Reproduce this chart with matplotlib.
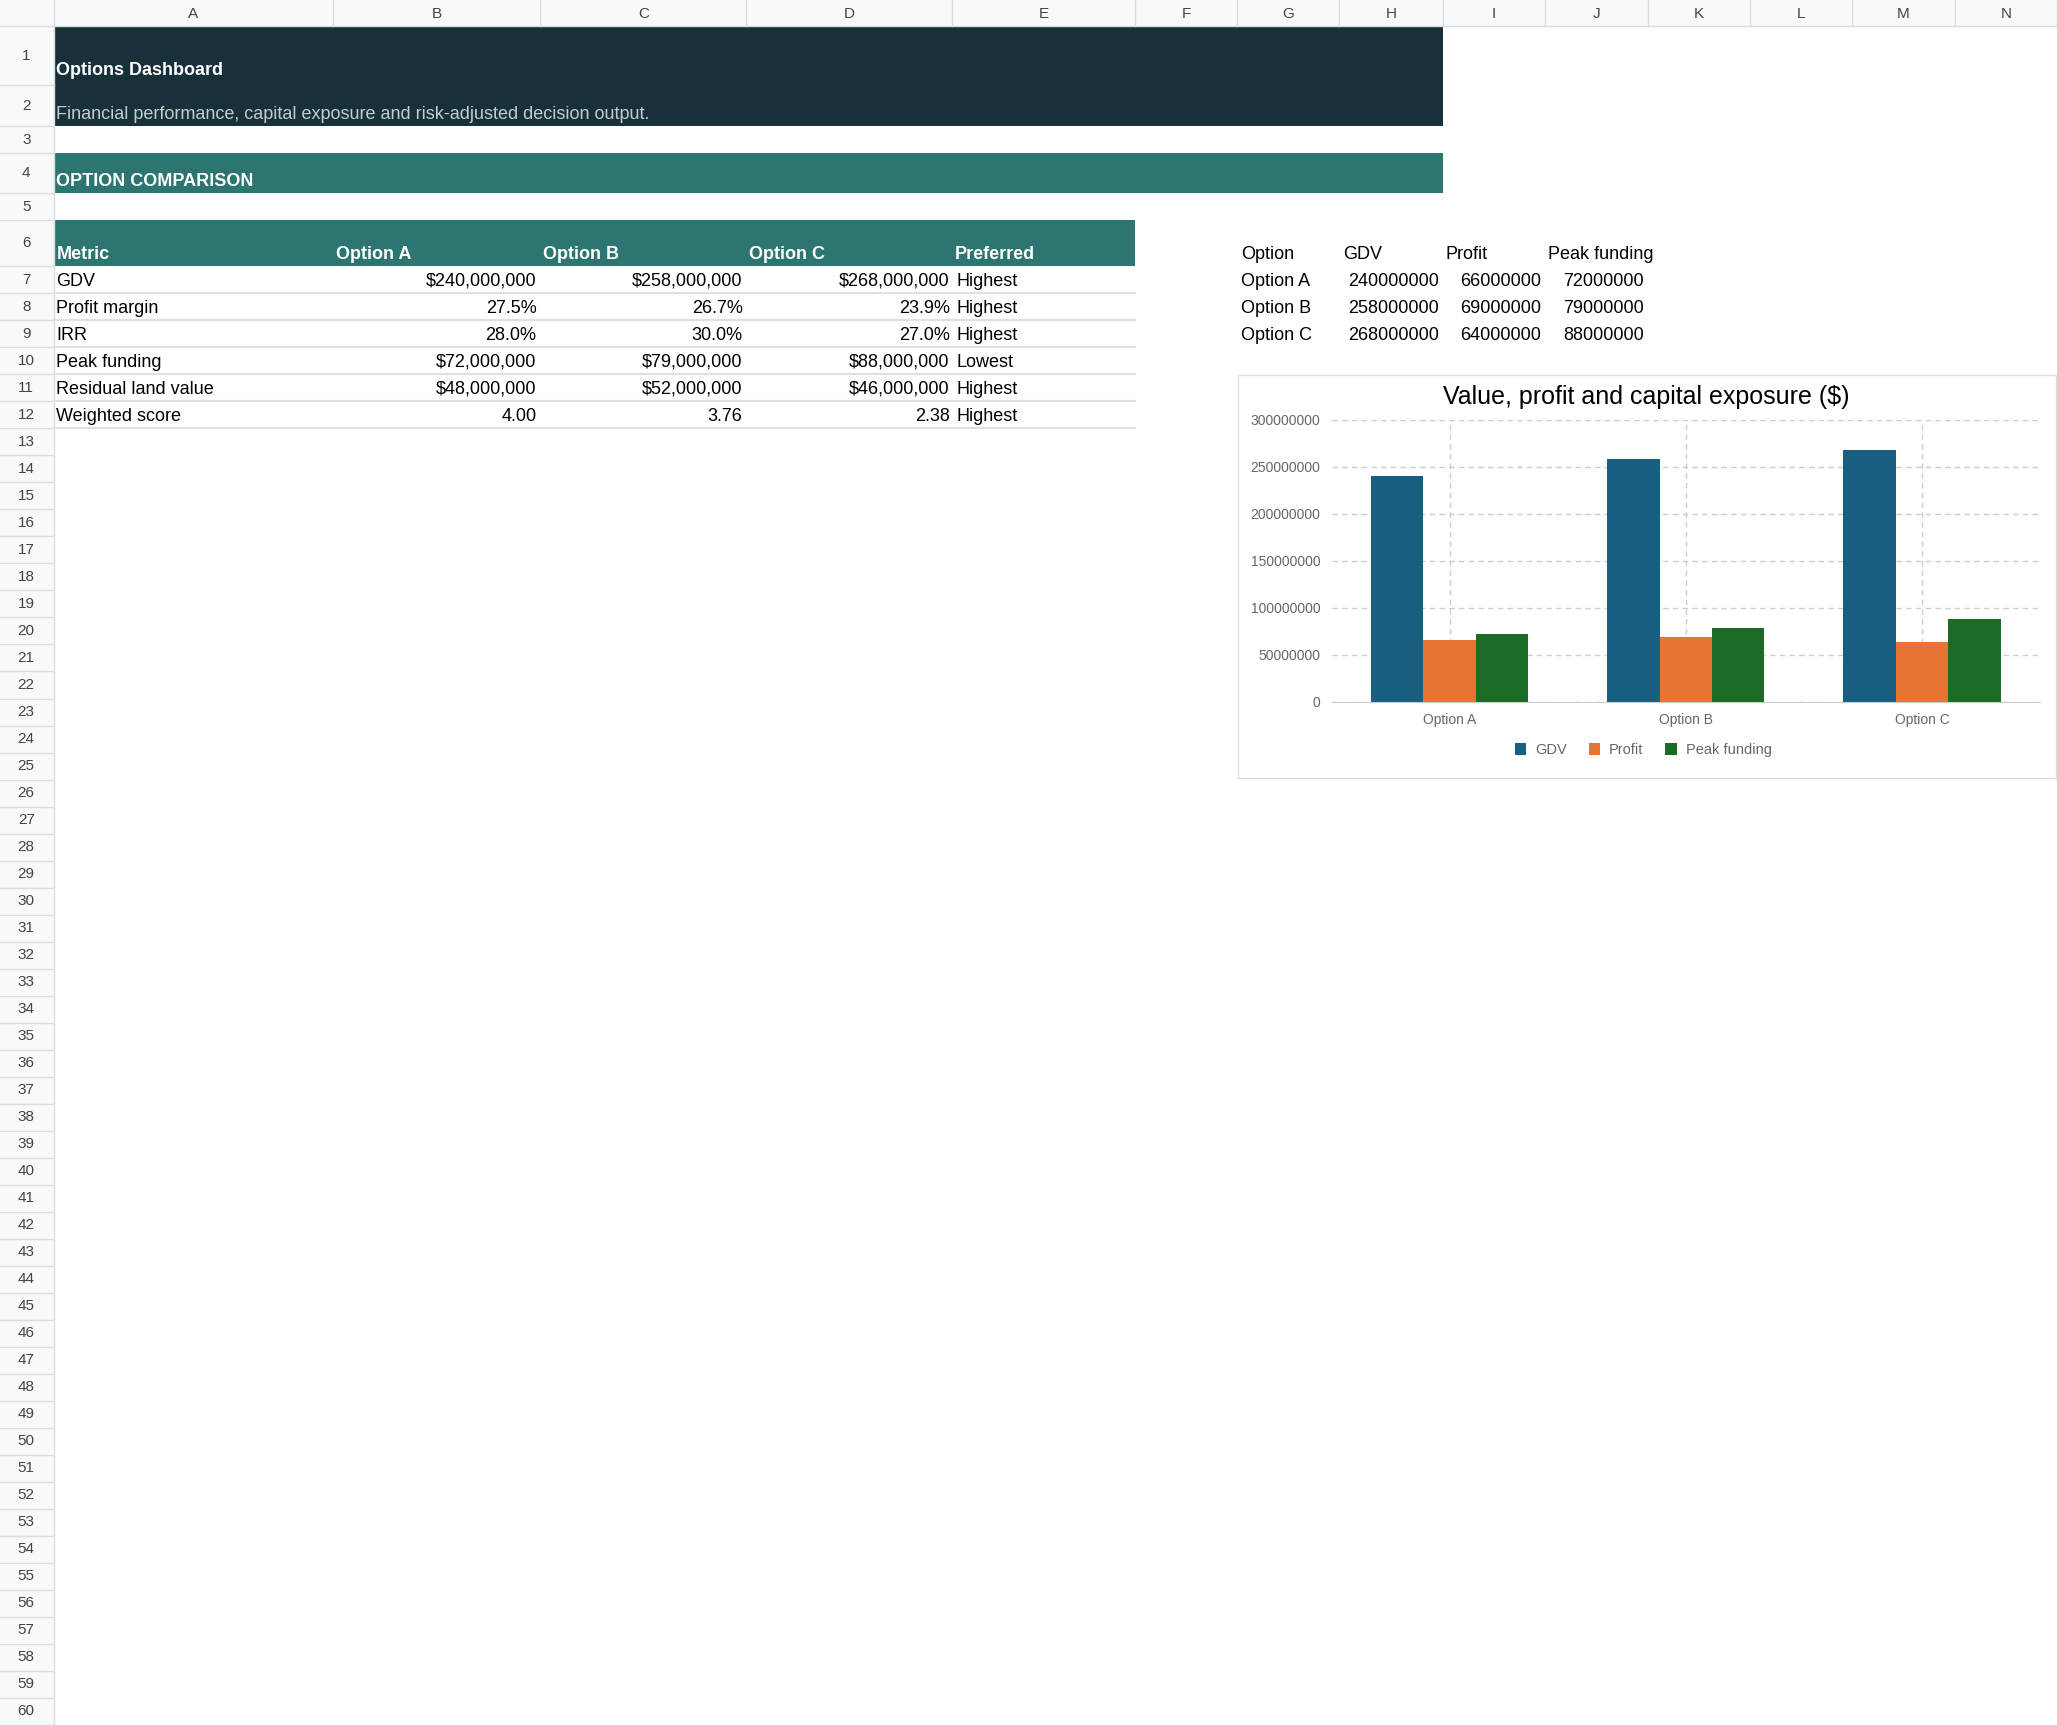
import matplotlib.pyplot as plt
from matplotlib.patches import Rectangle, FancyBboxPatch
import numpy as np

plt.rcParams['font.family'] = ['Liberation Sans', 'DejaVu Sans']

# data
options = ['Option A', 'Option B', 'Option C']
gdv = [240000000, 258000000, 268000000]
profit = [66000000, 69000000, 64000000]
peak_funding = [72000000, 79000000, 88000000]

table_header = ['Metric', 'Option A', 'Option B', 'Option C', 'Preferred']
metrics = ['GDV', 'Profit margin', 'IRR', 'Peak funding', 'Residual land value', 'Weighted score']
col_a = ['$240,000,000', '27.5%', '28.0%', '$72,000,000', '$48,000,000', '4.00']
col_b = ['$258,000,000', '26.7%', '30.0%', '$79,000,000', '$52,000,000', '3.76']
col_c = ['$268,000,000', '23.9%', '27.0%', '$88,000,000', '$46,000,000', '2.38']
preferred = ['Highest', 'Highest', 'Highest', 'Lowest', 'Highest', 'Highest']

col_letters = list('ABCDEFGHIJKLMN')

# layout (in reference display units, 1568 x 1315)
W, H = 1568, 1315
col_edges = [41, 254, 412, 569, 726, 865, 943, 1021, 1100, 1178, 1256, 1334, 1412, 1490, 1568]
row_edges = [20, 65, 96, 117, 147, 168, 203]
step = (1315 - 203) / 54
row_edges += [203 + step * i for i in range(1, 55)]

fig = plt.figure(figsize=(20.57, 17.25), dpi=100)
ax = fig.add_axes([0, 0, 1, 1])
ax.set_xlim(0, W)
ax.set_ylim(H, 0)
ax.axis('off')

grid = '#dcdcdc'
# column header strip
ax.add_patch(Rectangle((0, 0), W, 20, fc='#f8f9fa', ec='none'))
ax.add_patch(Rectangle((0, 0), 41, H, fc='#f8f9fa', ec='none'))
for i, letter in enumerate(col_letters):
    x0, x1 = col_edges[i], col_edges[i + 1]
    ax.plot([x1, x1], [0, 20], color=grid, lw=1)
    ax.text((x0 + x1) / 2, 11, letter, ha='center', va='center', fontsize=11, color='#444444')
ax.plot([41, 41], [0, H], color=grid, lw=1)
ax.plot([0, W], [20, 20], color=grid, lw=1)
for r in range(60):
    y0, y1 = row_edges[r], row_edges[r + 1]
    ax.plot([0, 41], [y1, y1], color=grid, lw=1)
    ax.text(20, (y0 + y1) / 2, str(r + 1), ha='center', va='center', fontsize=11, color='#444444')

# banners
ax.add_patch(Rectangle((41, 20), 1059, 76, fc='#173039', ec='none'))
ax.text(43, 54, 'Options Dashboard', fontsize=13, fontweight='bold', color='white', va='center')
ax.text(43, 87, 'Financial performance, capital exposure and risk-adjusted decision output.',
        fontsize=13, color='#c3cdd1', va='center')
ax.add_patch(Rectangle((41, 117), 1059, 30, fc='#2c7570', ec='none'))
ax.text(43, 138, 'OPTION COMPARISON', fontsize=13, fontweight='bold', color='white', va='center')

# table
ax.add_patch(Rectangle((41, 168), 824, 35, fc='#2c7570', ec='none'))
hx = [43, 256, 414, 571, 728]
for x, t in zip(hx, table_header):
    ax.text(x, 194, t, fontsize=13, fontweight='bold', color='white', va='center')
for i in range(len(metrics)):
    y0, y1 = row_edges[6 + i], row_edges[7 + i]
    yc = (y0 + y1) / 2 + 1
    ax.text(43, yc, metrics[i], fontsize=13, va='center')
    ax.text(409, yc, col_a[i], fontsize=13, va='center', ha='right')
    ax.text(566, yc, col_b[i], fontsize=13, va='center', ha='right')
    ax.text(724, yc, col_c[i], fontsize=13, va='center', ha='right')
    ax.text(729, yc, preferred[i], fontsize=13, va='center')
    ax.plot([41, 865], [y1, y1], color='#e0e0e0', lw=1.5)

# chart source data
ax.text(946, 194, 'Option', fontsize=13, va='center')
ax.text(1024, 194, 'GDV', fontsize=13, va='center')
ax.text(1102, 194, 'Profit', fontsize=13, va='center')
ax.text(1180, 194, 'Peak funding', fontsize=13, va='center')
for i in range(len(options)):
    yc = (row_edges[6 + i] + row_edges[7 + i]) / 2 + 1
    ax.text(946, yc, options[i], fontsize=13, va='center')
    ax.text(1097, yc, str(gdv[i]), fontsize=13, va='center', ha='right')
    ax.text(1175, yc, str(profit[i]), fontsize=13, va='center', ha='right')
    ax.text(1253, yc, str(peak_funding[i]), fontsize=13, va='center', ha='right')

# chart box
ax.add_patch(Rectangle((944, 286), 623, 307, fc='white', ec='#dddddd', lw=1))
ax.text(1255, 303, 'Value, profit and capital exposure ($)', fontsize=18, ha='center', va='center')

# bar chart
bx = fig.add_axes([1015 / W, 1 - 535 / H, 540 / W, 215 / H])
x = np.arange(len(options))
bw = 0.222
colors = ['#175f80', '#e87434', '#1b6b27']
bx.bar(x - bw, gdv, bw, color=colors[0], label='GDV')
bx.bar(x, profit, bw, color=colors[1], label='Profit')
bx.bar(x + bw, peak_funding, bw, color=colors[2], label='Peak funding')
bx.set_xlim(-0.5, 2.5)
bx.set_ylim(0, 300000000)
bx.set_yticks(np.arange(0, 300000001, 50000000))
bx.set_yticklabels([str(v) for v in range(0, 300000001, 50000000)])
bx.set_xticks(x)
bx.set_xticklabels(options)
bx.tick_params(length=0, labelsize=10, labelcolor='#666666', pad=8)
bx.grid(True, color='#cccccc', ls=(0, (4, 3)), lw=1)
bx.set_axisbelow(True)
for s in ['top', 'right', 'left']:
    bx.spines[s].set_visible(False)
bx.spines['bottom'].set_color('#cccccc')
bx.patch.set_alpha(0)
bx.legend(loc='upper center', bbox_to_anchor=(0.44, -0.1), ncol=3, frameon=False,
          fontsize=10.5, labelcolor='#666666', handlelength=0.8, handleheight=0.8,
          handletextpad=0.6, columnspacing=1.5)

fig.savefig('out.png', dpi=100)
